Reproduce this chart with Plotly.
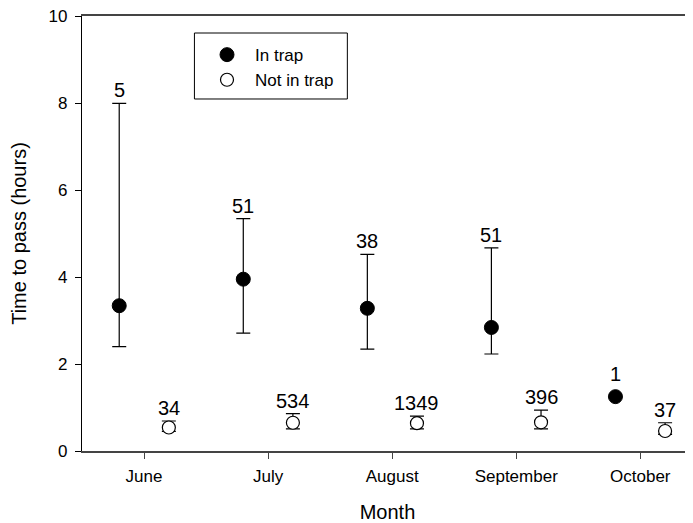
import plotly.graph_objects as go

months = ["June", "July", "August", "September", "October"]

# In trap: mean, upper bound, lower bound, sample size
trap_mean = [3.34, 3.95, 3.28, 2.84, 1.25]
trap_upper = [7.99, 5.34, 4.52, 4.67, None]
trap_lower = [2.40, 2.71, 2.34, 2.23, None]
trap_n = [5, 51, 38, 51, 1]

# Not in trap
free_mean = [0.54, 0.65, 0.64, 0.66, 0.46]
free_upper = [0.69, 0.86, 0.80, 0.94, 0.65]
free_lower = [0.45, 0.51, 0.51, 0.51, 0.38]
free_n = [34, 534, 1349, 396, 37]

OFFSET = 0.2
FONT = "Arial, Liberation Sans, Arimo, sans-serif"

idx = list(range(len(months)))
x_trap = [i - OFFSET for i in idx]
x_free = [i + OFFSET for i in idx]


def err_plus(mean, up):
    return [(u - m) if u is not None else 0 for m, u in zip(mean, up)]


def err_minus(mean, lo):
    return [(m - l) if l is not None else 0 for m, l in zip(mean, lo)]


fig = go.Figure()

fig.add_trace(go.Scatter(
    x=x_trap, y=trap_mean, mode="markers", name="In trap",
    marker=dict(symbol="circle", size=14, color="black",
                line=dict(color="black", width=1)),
    error_y=dict(type="data", symmetric=False,
                 array=err_plus(trap_mean, trap_upper),
                 arrayminus=err_minus(trap_mean, trap_lower),
                 color="black", thickness=1.2, width=7),
))

fig.add_trace(go.Scatter(
    x=x_free, y=free_mean, mode="markers", name="Not in trap",
    marker=dict(symbol="circle", size=13, color="white",
                line=dict(color="black", width=1.2)),
    error_y=dict(type="data", symmetric=False,
                 array=err_plus(free_mean, free_upper),
                 arrayminus=err_minus(free_mean, free_lower),
                 color="black", thickness=1.2, width=7),
))

annotations = []
for xs, means, ups, ns in [(x_trap, trap_mean, trap_upper, trap_n),
                           (x_free, free_mean, free_upper, free_n)]:
    for x, m, u, n in zip(xs, means, ups, ns):
        if u is not None:
            y, shift = u, 0
        else:
            y, shift = m, 10
        annotations.append(dict(
            x=x, y=y, xref="x", yref="y", text=str(n), showarrow=False,
            xanchor="center", yanchor="bottom", yshift=shift,
            font=dict(family=FONT, size=20, color="black"),
        ))

# page body has an 8px margin, so the figure is sized/margined to compensate
fig.update_layout(
    width=685, height=515,
    margin=dict(l=74, r=0, t=8, b=72),
    paper_bgcolor="white", plot_bgcolor="white",
    font=dict(family=FONT, color="black"),
    showlegend=True,
    legend=dict(
        x=0.1915, y=0.9515, xanchor="left", yanchor="top",
        bgcolor="rgba(0,0,0,0)", borderwidth=0,
        font=dict(family=FONT, size=17, color="black"),
        tracegroupgap=0, itemsizing="trace", itemwidth=46,
    ),
    annotations=annotations,
    shapes=[dict(type="rect", xref="paper", yref="paper",
                 x0=0.184, x1=0.4343, y0=0.8092, y1=0.9609,
                 line=dict(color="black", width=1), fillcolor="rgba(0,0,0,0)")],
    xaxis=dict(
        range=[-0.5, 4.425], tickmode="array", tickvals=idx, ticktext=months,
        showgrid=False, zeroline=False, automargin=False,
        showline=True, linecolor="#444444", linewidth=2, mirror=True,
        ticks="outside", ticklen=6, tickcolor="#444444", tickwidth=1,
        tickfont=dict(family=FONT, size=17, color="black"),
        ticklabelstandoff=3, ticklabeloverflow="allow",
        title=dict(text="Month", font=dict(family=FONT, size=20, color="black"), standoff=20),
    ),
    yaxis=dict(
        range=[0, 10], tickvals=[0, 2, 4, 6, 8, 10],
        showgrid=False, zeroline=False, automargin=False,
        showline=True, linecolor="black", linewidth=1.2,
        ticks="outside", ticklen=6, tickcolor="black", tickwidth=1,
        tickfont=dict(family=FONT, size=17, color="black"),
        ticklabelstandoff=4, ticklabeloverflow="allow",
        title=dict(text="Time to pass (hours)", font=dict(family=FONT, size=20, color="black"), standoff=19),
    ),
)

fig.write_html("out.html")
